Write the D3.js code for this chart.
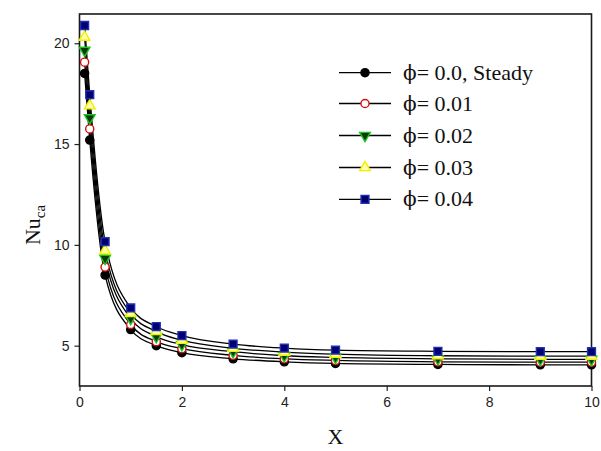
<!DOCTYPE html>
<html>
<head>
<meta charset="utf-8">
<script src="https://cdn.jsdelivr.net/npm/d3@7"></script>
<style>
  html, body { margin: 0; padding: 0; background: #fff; }
  svg { display: block; }
</style>
</head>
<body>
<svg id="chart" width="601" height="451"></svg>
<script>
// Axial positions along the channel
const xValues = [0.1, 0.2, 0.5, 1, 1.5, 2, 3, 4, 5, 7, 9, 10];

// Nusselt number for each nanoparticle volume fraction
const nuSteady = [18.5, 15.2, 8.5, 5.8, 5.0, 4.65, 4.35, 4.2, 4.12, 4.07, 4.05, 4.05];
const nu001    = [19.06, 15.75, 8.9, 6.05, 5.2, 4.85, 4.52, 4.35, 4.27, 4.2, 4.18, 4.18];
const nu002    = [19.65, 16.3, 9.33, 6.35, 5.45, 5.05, 4.7, 4.5, 4.42, 4.35, 4.32, 4.32];
const nu003    = [20.3, 16.9, 9.7, 6.6, 5.7, 5.27, 4.87, 4.68, 4.58, 4.5, 4.48, 4.48];
const nu004    = [20.88, 17.45, 10.16, 6.87, 5.95, 5.5, 5.08, 4.88, 4.78, 4.72, 4.7, 4.7];

const seriesLabels = ["= 0.0, Steady", "= 0.01", "= 0.02", "= 0.03", "= 0.04"];
const phiSymbol = "\u03d5";

const xTicks = [0, 2, 4, 6, 8, 10];
const yTicks = [5, 10, 15, 20];

const markerStyles = [
  { type: d3.symbolCircle,   size: 52, fill: "#000000", stroke: "#000000", rotate: 0 },
  { type: d3.symbolCircle,   size: 52, fill: "#ffffff", stroke: "#d01010", rotate: 0 },
  { type: d3.symbolTriangle, size: 50, fill: "#0a3a0a", stroke: "#20c020", rotate: 180 },
  { type: d3.symbolTriangle, size: 50, fill: "#ffffa8", stroke: "#f0f000", rotate: 0 },
  { type: d3.symbolSquare,   size: 62, fill: "#000070", stroke: "#2030b0", rotate: 0 }
];

const series = [nuSteady, nu001, nu002, nu003, nu004];

const svg = d3.select("#chart");
const plotLeft = 79.5, plotRight = 591.5, plotTop = 14, plotBottom = 386;

const x = d3.scaleLinear().domain([0, 10]).range([plotLeft, plotRight]);
const y = d3.scaleLinear().domain([3, 21.45]).range([plotBottom, plotTop]);

// Axes
const xAxis = svg.append("g")
  .attr("transform", `translate(0,${plotBottom})`)
  .call(d3.axisBottom(x).tickValues(xTicks).tickSize(5).tickPadding(6).tickFormat(d3.format("d")));
const yAxis = svg.append("g")
  .attr("transform", `translate(${plotLeft},0)`)
  .call(d3.axisLeft(y).tickValues(yTicks).tickSize(5).tickPadding(5).tickFormat(d3.format("d")));

[xAxis, yAxis].forEach(g => {
  g.select(".domain").remove();
  g.selectAll(".tick line").attr("stroke", "#222").attr("stroke-width", 1.2);
  g.selectAll(".tick text")
    .attr("font-family", "Arial, 'Liberation Sans', sans-serif")
    .attr("font-size", 14)
    .attr("fill", "#222");
});

// Frame
svg.append("rect")
  .attr("x", plotLeft).attr("y", plotTop)
  .attr("width", plotRight - plotLeft).attr("height", plotBottom - plotTop)
  .attr("fill", "none").attr("stroke", "#1a1a1a").attr("stroke-width", 1.6);

// Curves
const line = d3.line()
  .x((d, i) => x(xValues[i]))
  .y(d => y(d))
  .curve(d3.curveMonotoneX);

const plot = svg.append("g");
series.forEach(vals => {
  plot.append("path")
    .datum(vals)
    .attr("d", line)
    .attr("fill", "none")
    .attr("stroke", "#000")
    .attr("stroke-width", 1.3);
});

function drawMarker(g, style, cx, cy) {
  g.append("path")
    .attr("d", d3.symbol().type(style.type).size(style.size)())
    .attr("transform", `translate(${cx},${cy}) rotate(${style.rotate})`)
    .attr("fill", style.fill)
    .attr("stroke", style.stroke)
    .attr("stroke-width", 1.4);
}

series.forEach((vals, s) => {
  vals.forEach((v, i) => drawMarker(plot, markerStyles[s], x(xValues[i]), y(v)));
});

// Legend
const legend = svg.append("g");
const legendRows = [72.7, 103.5, 135.5, 167.5, 199.3];
seriesLabels.forEach((label, s) => {
  const ly = legendRows[s];
  legend.append("line")
    .attr("x1", 339).attr("x2", 391)
    .attr("y1", ly).attr("y2", ly)
    .attr("stroke", "#000").attr("stroke-width", 1.3);
  drawMarker(legend, markerStyles[s], 365, ly);
  const t = legend.append("text")
    .attr("x", 403).attr("y", ly + 7)
    .attr("font-family", "'Liberation Serif', 'Times New Roman', serif")
    .attr("font-size", 22)
    .attr("fill", "#111");
  t.append("tspan").attr("font-family", "'DejaVu Serif', serif").attr("font-size", 20).text(phiSymbol);
  t.append("tspan").text(label);
});

// Axis titles
svg.append("text")
  .attr("x", (plotLeft + plotRight) / 2).attr("y", 444)
  .attr("text-anchor", "middle")
  .attr("font-family", "'Liberation Serif', 'Times New Roman', serif")
  .attr("font-size", 22)
  .attr("fill", "#111")
  .text("X");

const yTitle = svg.append("text")
  .attr("transform", "translate(40,225) rotate(-90)")
  .attr("text-anchor", "middle")
  .attr("font-family", "'Liberation Serif', 'Times New Roman', serif")
  .attr("font-size", 22)
  .attr("fill", "#111");
yTitle.append("tspan").text("Nu");
yTitle.append("tspan").attr("font-size", 15).attr("dy", 5).text("ca");
</script>
</body>
</html>
